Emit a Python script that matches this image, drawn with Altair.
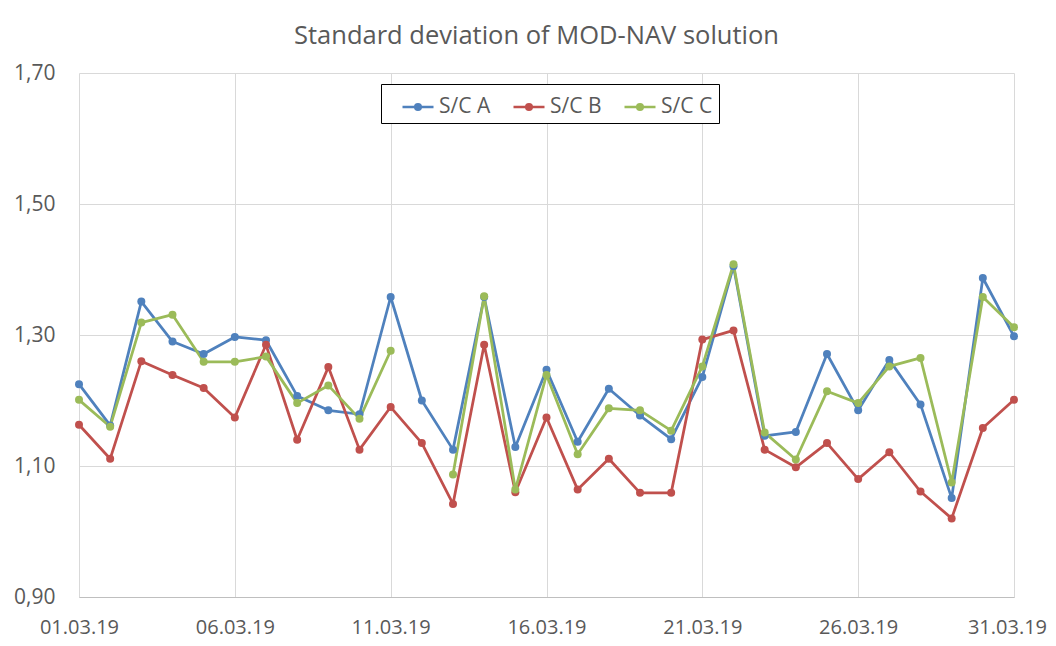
import altair as alt
import pandas as pd

dates = ["%02d.03.19" % d for d in range(1, 32)]
tick_dates = ["01.03.19", "06.03.19", "11.03.19", "16.03.19", "21.03.19", "26.03.19", "31.03.19"]
y_ticks = [0.90, 1.10, 1.30, 1.50, 1.70]

sc_a = [1.225, 1.162, 1.351, 1.290, 1.271, 1.297, 1.292, 1.207, 1.185, 1.179, 1.358,
        1.200, 1.125, 1.358, 1.129, 1.247, 1.137, 1.218, 1.177, 1.141, 1.236,
        1.405, 1.146, 1.152, 1.271, 1.185, 1.262, 1.194, 1.051, 1.387, 1.298]
sc_b = [1.163, 1.111, 1.260, 1.239, 1.219, 1.174, 1.285, 1.140, 1.251, 1.125, 1.190,
        1.135, 1.042, 1.285, 1.060, 1.174, 1.064, 1.111, 1.059, 1.059, 1.293,
        1.307, 1.125, 1.098, 1.135, 1.080, 1.121, 1.061, 1.020, 1.158, 1.201]
sc_c = [1.201, 1.160, 1.319, 1.331, 1.259, 1.259, 1.267, 1.196, 1.223, 1.172, 1.276,
        None, 1.087, 1.359, 1.064, 1.239, 1.118, 1.188, 1.185, 1.154, 1.252,
        1.408, 1.151, 1.110, 1.214, 1.196, 1.252, 1.265, 1.075, 1.358, 1.312]

series_names = ["S/C A", "S/C B", "S/C C"]
series_colors = ["#4F81BD", "#C0504D", "#9BBB59"]

rows = []
for name, vals in zip(series_names, [sc_a, sc_b, sc_c]):
    for d, v in zip(dates, vals):
        rows.append({"date": d, "series": name, "value": v})
df = pd.DataFrame(rows)

legend_symbol = "M-1,0L1,0M-0.18,0A0.18,0.18,0,1,1,0.18,0A0.18,0.18,0,1,1,-0.18,0Z"

x_enc = alt.X(
    "date:O",
    sort=dates,
    scale=alt.Scale(type="point", padding=0),
    axis=alt.Axis(values=tick_dates, labelAngle=0, grid=True, domain=True,
                  domainColor="#bfbfbf", labelPadding=20, labelFontSize=20, title=None,
                  labelOffset={"condition": {"test": "datum.label == '31.03.19'", "value": -7},
                               "value": 0}),
)
y_enc = alt.Y(
    "value:Q",
    scale=alt.Scale(domain=[0.9, 1.7], zero=False, nice=False),
    axis=alt.Axis(values=y_ticks, labelExpr="replace(format(datum.value, '.2f'), '.', ',')",
                  labelPadding=24, title=None, grid=True, domain=False),
)
color_enc = alt.Color(
    "series:N",
    scale=alt.Scale(domain=series_names, range=series_colors),
    legend=alt.Legend(
        orient="none", legendX=302, legendY=11, direction="horizontal", title=None,
        strokeColor="black", fillColor="white", padding=6,
        symbolType=legend_symbol, symbolSize=961, symbolStrokeWidth=2.5,
        symbolOffset=14, labelOffset=4, columnPadding=7,
        labelFont="Open Sans", labelFontSize=21, labelColor="#595959",
        labelExpr="datum.label + ' '",
    ),
)

base = alt.Chart(df)
lines = base.mark_line(strokeWidth=2.75, strokeCap="round", strokeJoin="round").encode(
    x=x_enc, y=y_enc, color=color_enc, detail="series:N"
)
points = base.mark_point(filled=True, size=64, opacity=1).encode(
    x=x_enc, y=y_enc, color=color_enc
)

chart = alt.layer(lines, points).properties(
    width=935,
    height=524,
    padding={"left": 71, "top": 65, "right": 34, "bottom": 41},
    autosize=alt.AutoSizeParams(type="none"),
    title=alt.TitleParams(
        "Standard deviation of MOD-NAV solution",
        font="Open Sans", fontSize=25.5, fontWeight="normal", color="#595959",
        anchor="middle", dx=-10, offset=13,
    ),
).configure_view(stroke=None).configure_axis(
    labelFont="Open Sans", labelFontSize=21, labelColor="#595959",
    gridColor="#d9d9d9", gridWidth=1, ticks=False,
)

chart.save("out.html", embed_options={"renderer": "svg", "actions": False})
